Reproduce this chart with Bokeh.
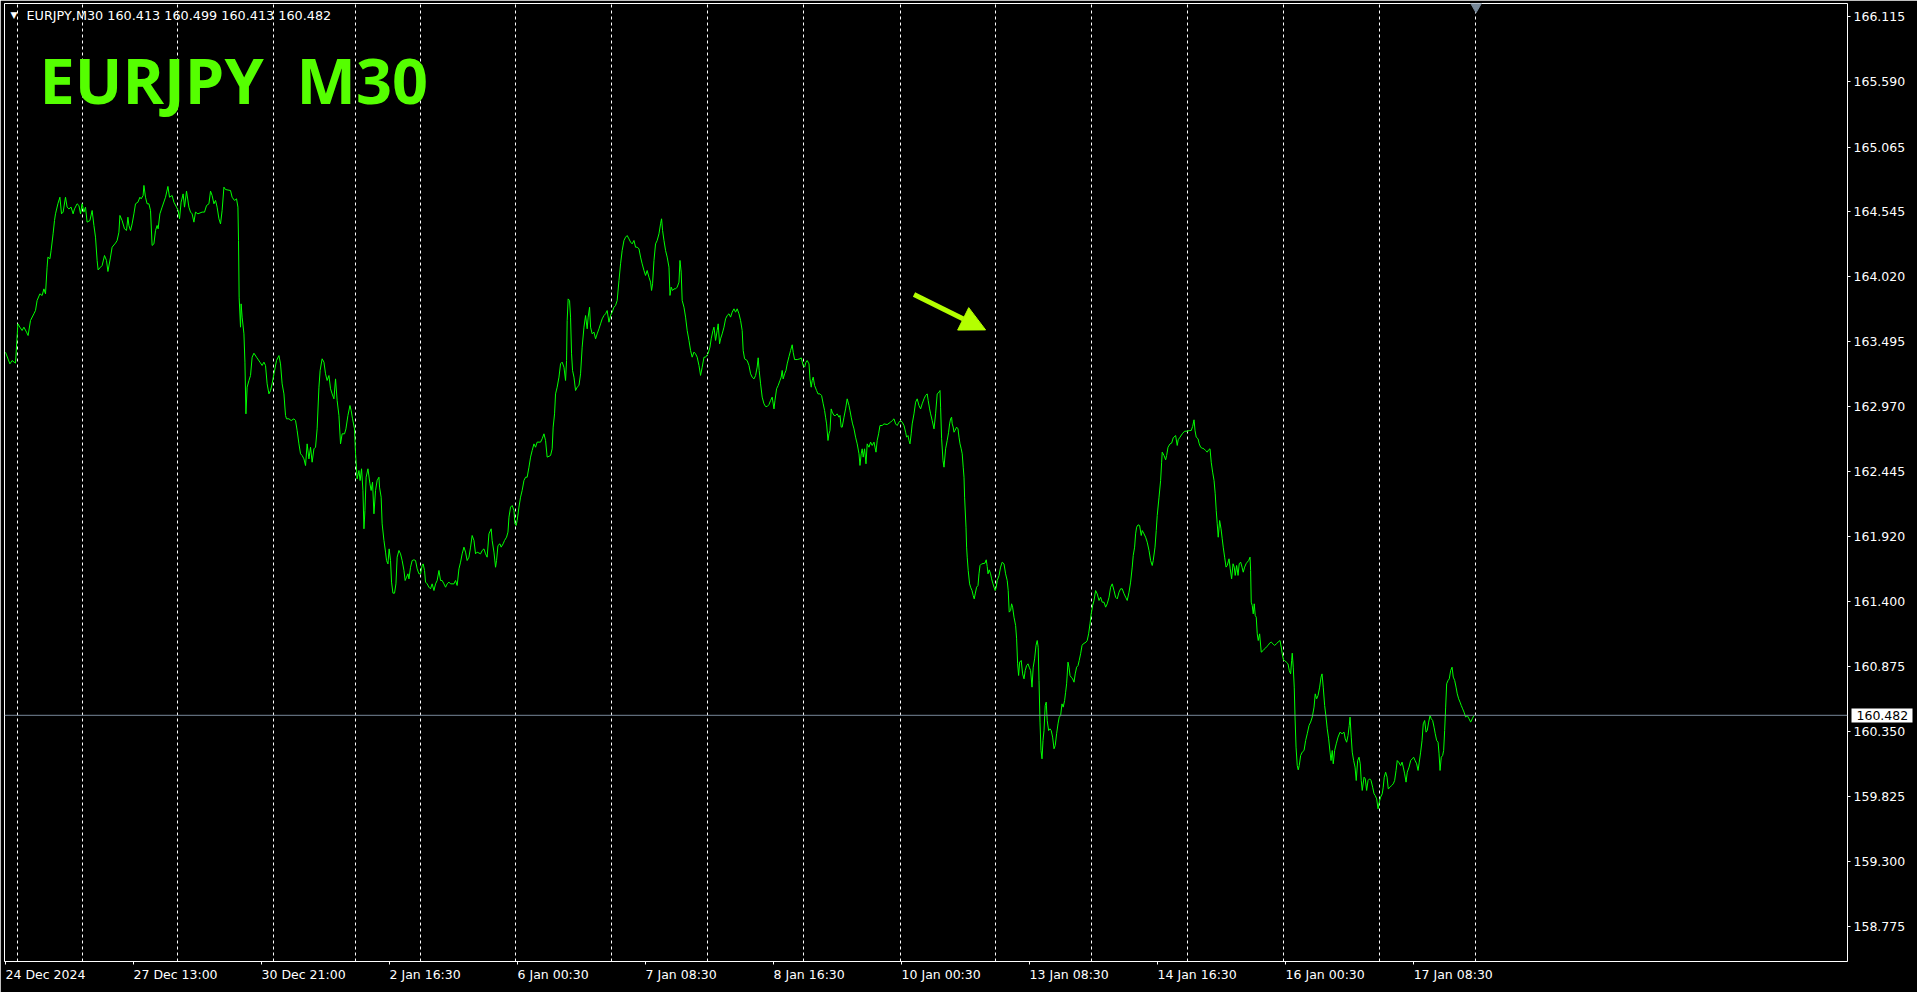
from bokeh.plotting import figure
from bokeh.models import (Range1d, FixedTicker, PrintfTickFormatter, Span, Label, Arrow, NormalHead,
                          LinearAxis)
from bokeh.embed import file_html
from bokeh.resources import INLINE

SYMBOL = "EURJPY"
TIMEFRAME = "M30"
OHLC_LAST = [160.413, 160.499, 160.413, 160.482]
LAST_CLOSE = 160.482

# bar number (M30 bars since the first bar shown) and close price
BAR = [
    0.0, 2.2, 3.3, 5.0, 6.2, 7.2, 8.3, 9.2, 10.5, 11.3, 12.5, 14.2, 15.0, 15.8, 17.2, 18.3, 19.2, 20.0,
    20.8, 21.2, 22.2, 22.8, 23.8, 24.5, 25.0, 26.2, 27.2, 28.0, 28.8, 30.0, 30.8, 31.7, 32.8, 33.8,
    34.5, 35.8, 36.7, 37.5, 38.3, 39.2, 40.0, 40.8, 42.2, 43.3, 44.2, 45.0, 45.8, 46.3, 47.5, 48.3,
    49.5, 50.5, 51.2, 52.5, 53.3, 55.0, 55.8, 56.7, 57.2, 58.3, 59.5, 60.5, 61.2, 61.7, 62.5, 63.3,
    64.2, 65.0, 66.2, 67.2, 67.8, 68.8, 69.2, 70.0, 70.8, 71.7, 72.5, 73.3, 74.2, 75.0, 75.8, 76.3,
    77.2, 78.3, 80.0, 81.2, 82.0, 83.3, 84.2, 85.5, 86.3, 87.0, 87.8, 88.8, 89.5, 90.5, 91.7, 92.5,
    93.3, 94.2, 95.0, 96.2, 98.3, 99.5, 100.5, 101.7, 102.5, 103.3, 104.2, 105.0, 105.8, 106.7, 107.5,
    108.3, 109.2, 110.0, 112.5, 113.3, 114.5, 115.5, 116.2, 116.5, 116.8, 117.5, 117.8, 118.3, 119.2,
    119.7, 120.2, 120.8, 121.7, 122.5, 123.3, 124.2, 125.5, 127.2, 128.3, 129.2, 130.0, 130.8, 131.7,
    132.5, 133.3, 134.2, 135.5, 136.7, 137.5, 138.3, 139.2, 140.0, 140.5, 141.7, 142.8, 144.2, 145.0,
    145.8, 146.7, 147.5, 148.3, 149.2, 150.0, 150.8, 151.7, 152.5, 153.3, 154.2, 155.0, 155.8, 156.7,
    157.3, 158.3, 159.2, 160.0, 160.8, 161.7, 162.5, 163.3, 164.2, 165.0, 165.8, 166.7, 167.5, 168.3,
    169.5, 170.2, 171.2, 172.2, 172.8, 173.5, 174.5, 175.0, 175.8, 176.7, 177.3, 178.0, 178.7, 179.2,
    179.7, 180.3, 181.2, 182.2, 182.8, 183.5, 184.2, 185.0, 185.8, 186.7,
    187.0, 187.8, 188.3, 189.2, 190.0, 190.5, 191.2, 191.8, 192.5, 193.0, 193.7, 194.5, 195.2, 195.8,
    196.7, 197.5, 198.3, 199.2, 199.8, 200.5, 201.2, 201.7, 202.5, 203.3, 204.2, 205.0, 205.8, 206.7,
    207.5, 208.3, 208.8, 209.5, 210.0, 210.8, 211.7, 212.5, 213.3, 214.2, 215.0, 215.8, 216.7, 217.5,
    218.3, 219.2, 220.0, 220.8, 221.7, 222.5, 224.2, 225.0, 225.8, 226.7, 227.5, 228.3, 229.2, 230.0,
    230.8, 231.7, 232.5, 233.3, 234.2, 235.0, 235.8, 237.5, 238.3, 239.2, 240.0, 240.8, 241.7, 242.8,
    243.3, 244.2, 245.0, 245.5, 246.2, 247.2, 247.8, 248.8, 249.5, 250.5, 251.2, 251.7, 252.5, 253.3,
    254.2, 254.7, 255.3, 255.8, 256.7, 257.5, 258.3, 259.2, 260.0, 260.8, 261.7, 262.5, 263.3, 264.2,
    265.0, 265.8, 267.5, 268.3, 269.2, 270.0, 270.8, 272.5, 273.3, 273.8, 274.5, 275.0, 275.8, 276.7,
    277.5, 278.3, 279.2, 280.0, 280.5, 280.8, 281.3, 282.0, 282.5, 283.0, 283.5, 284.2, 285.0, 285.8,
    286.7, 287.5, 288.3, 289.2, 290.0, 290.8, 291.3, 292.0, 292.5, 293.3, 294.2, 295.0, 295.8, 296.7,
    297.5, 298.3, 299.2, 300.0, 300.8, 301.7, 302.5, 303.3, 304.2, 305.0, 305.8, 306.7, 307.5, 308.3,
    309.2, 310.0, 310.8, 311.7, 312.5, 313.3, 314.2, 315.0, 315.8, 316.7, 317.5, 318.3, 319.2, 320.0,
    320.8, 321.7, 322.5, 323.0, 323.5, 324.2, 325.0, 325.8, 326.7, 327.5, 328.0, 328.5, 329.2, 330.0,
    330.8, 331.7, 332.2, 332.8, 333.5, 334.2, 335.0, 335.8, 336.7, 337.2, 337.8, 338.3, 339.2, 340.0,
    340.8, 341.7, 342.5, 343.3, 344.2, 345.0, 345.8, 346.7, 347.5, 348.3, 349.2, 350.0, 351.2, 352.2,
    352.8, 353.7, 354.2, 355.0, 355.8, 356.3, 357.0, 357.5, 358.3, 359.2, 360.0, 360.8, 361.7, 362.5,
    363.3, 364.2, 365.0, 365.8, 366.7, 367.5,
    368.3, 368.8, 369.5, 370.8, 371.7, 372.5, 373.3, 374.2, 375.0, 375.8, 376.3, 376.8, 377.5, 378.3,
    379.2, 380.0, 380.8, 381.7, 382.5, 383.3, 384.2, 384.7, 385.5, 386.3, 387.2, 387.8, 388.3, 388.8,
    389.5, 390.2, 390.8, 391.7, 392.5, 393.3, 393.8, 394.5, 395.8, 397.2, 397.8, 398.8, 399.5, 400.2,
    400.8, 401.7, 402.2, 402.8, 403.3, 403.8, 404.5, 405.5, 406.2, 407.2, 408.0, 408.8, 409.5, 410.0,
    410.5, 411.2, 411.7, 412.2, 412.8, 413.3, 414.2, 415.0, 415.8, 416.7, 417.2, 417.8, 418.3, 419.2,
    420.0, 420.8, 421.7, 422.2, 422.8, 423.5, 424.2, 425.0, 425.8, 426.7, 427.2, 427.8, 428.3, 428.8,
    429.5, 430.2, 430.8, 431.7, 432.5, 433.3, 434.2, 434.7, 435.2, 435.8, 436.5, 437.2, 438.3, 439.2,
    440.8, 442.5, 443.3, 444.2, 445.0, 445.8, 446.7, 447.5, 448.3, 449.2, 450.0, 450.5, 451.2, 451.7,
    452.2, 452.8, 453.3, 454.2, 455.0, 455.8, 456.7, 457.5, 458.3, 459.2, 460.0, 460.8, 461.3, 462.0,
    462.5, 463.3, 464.2, 465.0, 465.8, 466.7, 467.2, 467.5, 468.0, 468.7, 469.2, 470.0, 470.8, 471.5,
    472.0, 472.5, 473.0, 473.3, 473.8, 474.2, 474.7, 475.5, 476.2, 476.7, 477.2, 477.8, 478.3, 478.8,
    479.2, 479.5, 480.2, 480.5, 480.8, 481.3, 482.0, 482.5, 483.2, 483.8, 484.3, 484.8, 485.5, 486.2,
    486.7, 487.2, 488.0, 489.7, 490.3, 490.8, 491.2, 491.8, 492.5, 493.0, 493.7, 494.2, 494.8, 495.3,
    495.8, 496.7, 497.5, 498.3, 499.2, 500.0, 500.8, 501.3, 501.8, 502.5, 503.0, 503.5, 504.2, 505.0,
    505.5, 506.0, 506.5, 507.0, 507.8, 508.5, 509.2, 509.8, 510.5, 511.2, 511.8, 512.5, 513.2, 513.8,
    514.5, 515.2, 515.8, 516.3, 516.7, 517.2, 517.7, 518.2, 518.7, 519.2, 519.8, 520.3, 520.8, 521.5,
    522.2, 522.8, 523.5, 524.2, 524.8, 525.5, 526.2, 526.8, 527.5, 528.2, 528.8, 529.5, 530.0, 530.5,
    531.2, 531.7, 532.2, 532.8, 533.5, 534.2, 534.8, 535.5, 536.2, 536.8, 537.5, 538.2, 538.8, 540.2,
    540.8, 541.5, 542.2, 542.8, 543.5, 544.2, 545.0, 545.8, 546.7, 547.5, 548.3, 549.2, 550.0, 550.8,
    551.7, 552.5, 553.3, 554.2, 555.0, 555.8, 556.7, 557.5,
    558.3, 559.2, 560.0, 560.8, 561.7, 562.5, 563.3, 563.8, 564.5, 565.0, 565.5, 566.2, 567.0, 567.8,
    568.3, 569.2, 570.0, 570.8, 571.7, 572.5, 573.3, 573.8, 574.7, 575.3, 575.8, 576.7, 577.5, 578.0,
    578.3, 579.2, 580.0, 580.5, 581.2, 582.2, 583.0, 583.8, 585.0, 585.8, 586.3, 587.2, 588.3, 589.5,
    590.8, 592.0, 592.8, 593.5, 594.2, 594.7, 595.3, 596.2, 596.8, 597.5, 598.3, 599.2, 600.0, 600.8,
    601.5, 602.2, 602.8, 603.5, 604.2, 604.8, 605.3, 605.8, 606.3, 607.0, 607.7, 608.3, 608.8, 609.5,
    610.2, 610.8, 611.7, 612.3, 613.0, 613.7, 614.3, 614.8, 615.5, 616.2, 616.8, 617.5, 618.2, 618.8,
    619.5, 620.2, 620.8, 621.5, 622.2, 622.5, 622.8, 623.3, 623.8, 624.3, 624.8, 625.3, 625.8, 626.3,
    627.0, 627.8, 628.8, 629.5, 630.3, 631.2, 632.0, 632.8, 633.7, 634.5, 635.3, 636.2, 637.2, 637.8,
    638.3, 639.0, 639.5, 640.3, 641.2, 641.8, 642.5, 643.0, 643.3, 643.8, 644.3, 644.7, 645.2, 645.8,
    646.3, 646.8, 647.5, 648.3, 649.2, 650.0, 650.8, 651.7, 652.5, 653.3, 654.2, 654.8, 655.5, 656.2,
    657.0, 657.7, 658.2, 658.8, 659.5, 660.2, 660.8, 661.5, 662.2, 662.7, 663.3, 663.8, 664.5, 665.3,
    666.2, 667.2, 668.2, 669.2, 669.8, 670.5, 671.2, 671.8, 672.2, 672.8, 673.3, 674.0, 674.7, 675.3,
    676.0, 676.7, 677.3, 677.8, 678.3, 679.2, 679.8, 680.5, 681.2, 682.0, 682.7, 683.5, 684.2, 684.8,
    685.5, 686.2, 686.8, 687.5, 688.3, 688.8, 689.3, 690.0, 690.7, 691.3, 692.2, 693.0, 693.8, 694.5,
    695.2, 695.8, 696.5, 697.5, 698.2, 698.8, 699.5, 700.2, 700.8, 701.7, 702.5, 703.3, 704.0, 704.7,
    705.5, 706.2, 706.8, 707.5, 708.2, 708.8, 709.5, 710.2, 710.8, 711.5, 712.2, 712.8, 713.5, 714.2,
    714.8, 715.5, 716.2, 716.7, 717.2, 717.8, 718.5, 719.0, 719.5, 720.0, 720.5, 721.2, 721.8, 722.5,
    723.2, 723.8, 724.5, 725.2, 725.8, 726.5, 727.2, 727.8, 728.5, 729.2, 730.0, 730.8, 731.7, 732.5,
    733.3, 734.2,
]
CLOSE = [
    163.410, 163.316, 163.343, 163.322, 163.639, 163.612, 163.585, 163.612, 163.572, 163.545, 163.666,
    163.720, 163.747, 163.827, 163.881, 163.867, 163.921, 163.881, 164.096, 164.177, 164.163, 164.230,
    164.365, 164.472, 164.526, 164.607, 164.660, 164.526, 164.540, 164.660, 164.580, 164.566, 164.580,
    164.526, 164.566, 164.607, 164.593, 164.526, 164.607, 164.540, 164.580, 164.459, 164.472, 164.553,
    164.432, 164.338, 164.150, 164.074, 164.096, 164.109, 164.190, 164.150, 164.061, 164.177, 164.257,
    164.290, 164.311, 164.378, 164.513, 164.472, 164.405, 164.392, 164.499, 164.432, 164.392, 164.445,
    164.526, 164.607, 164.620, 164.660, 164.647, 164.674, 164.755, 164.660, 164.607, 164.607, 164.553,
    164.271, 164.284, 164.392, 164.432, 164.405, 164.526, 164.580, 164.660, 164.747, 164.660, 164.674,
    164.620, 164.580, 164.553, 164.486, 164.620, 164.687, 164.580, 164.709, 164.580, 164.540, 164.526,
    164.459, 164.540, 164.526, 164.540, 164.540, 164.593, 164.607, 164.709, 164.674, 164.607, 164.634,
    164.580, 164.486, 164.445, 164.553, 164.741, 164.722, 164.714, 164.660, 164.634, 164.647, 164.580,
    164.311, 163.854, 163.612, 163.800, 163.693, 163.558, 163.330, 162.913, 163.128, 163.182, 163.222,
    163.370, 163.402, 163.370, 163.330, 163.303, 163.330, 163.303, 163.155, 163.074, 163.101, 163.155,
    163.236, 163.343, 163.383, 163.316, 163.155, 163.074, 162.900, 162.873, 162.873, 162.859, 162.873,
    162.859, 162.779, 162.671, 162.591, 162.577, 162.550, 162.496, 162.671, 162.550, 162.644, 162.523,
    162.631, 162.644, 162.792, 163.128, 163.263, 163.357, 163.330, 163.236, 163.182, 163.222, 163.115,
    163.074, 163.034, 163.195, 163.021, 162.900, 162.671, 162.752, 162.752, 162.792, 162.900, 162.980,
    162.940, 162.873, 162.792, 162.591, 162.389, 162.456, 162.375, 162.470, 162.295, 161.986, 162.134,
    162.402, 162.470, 162.349, 162.295, 162.362, 162.107, 162.295, 162.375, 162.402,
    162.322, 162.241, 162.026, 161.892, 161.798, 161.730, 161.703, 161.824, 161.730, 161.556, 161.467,
    161.467, 161.542, 161.757, 161.811, 161.784, 161.730, 161.650, 161.569, 161.596, 161.623, 161.582,
    161.676, 161.730, 161.736, 161.730, 161.663, 161.623, 161.623, 161.690, 161.703, 161.650, 161.556,
    161.542, 161.515, 161.502, 161.542, 161.488, 161.542, 161.569, 161.650, 161.569, 161.569, 161.542,
    161.515, 161.542, 161.556, 161.542, 161.542, 161.569, 161.529, 161.663, 161.717, 161.784, 161.838,
    161.798, 161.730, 161.757, 161.838, 161.932, 161.892, 161.784, 161.798, 161.784, 161.811, 161.824,
    161.784, 161.757, 161.945, 161.986, 161.892, 161.798, 161.676, 161.730, 161.851, 161.865, 161.838,
    161.865, 161.892, 161.919, 161.959, 162.080, 162.161, 162.174, 162.134, 162.026, 162.013, 162.053,
    162.161, 162.241, 162.295, 162.376, 162.402, 162.402, 162.483, 162.564, 162.617, 162.671, 162.644,
    162.685, 162.685, 162.712, 162.752, 162.698, 162.564, 162.577, 162.631, 162.806, 162.913, 163.074,
    163.128, 163.209, 163.317, 163.330, 163.289, 163.182, 163.343, 163.666, 163.840, 163.827, 163.693,
    163.397, 163.263, 163.209, 163.101, 163.128, 163.142, 163.236, 163.451, 163.612, 163.706, 163.599,
    163.693, 163.773, 163.612, 163.558, 163.572, 163.518, 163.558, 163.599, 163.639, 163.679, 163.706,
    163.720, 163.746, 163.652, 163.706, 163.733, 163.773, 163.787, 163.827, 163.988, 164.123, 164.230,
    164.311, 164.338, 164.351, 164.324, 164.298, 164.284, 164.311, 164.257, 164.257, 164.244, 164.177,
    164.123, 164.069, 164.029, 164.069, 164.015, 163.975, 163.908, 163.962, 164.150, 164.284, 164.311,
    164.365, 164.446, 164.486, 164.392, 164.311, 164.230, 164.177, 164.096, 163.868, 163.935, 163.908,
    163.921, 163.921, 163.935, 163.975, 164.150, 164.056, 163.827, 163.773, 163.693, 163.585, 163.505,
    163.424, 163.370, 163.411, 163.397, 163.370, 163.303, 163.223, 163.289, 163.370, 163.370, 163.397,
    163.451, 163.518, 163.585, 163.612, 163.505, 163.585, 163.639, 163.478, 163.518, 163.558, 163.612,
    163.679, 163.706, 163.720, 163.693, 163.733, 163.760, 163.733, 163.760, 163.720, 163.666,
    163.585, 163.424, 163.357, 163.343, 163.303, 163.236, 163.209, 163.195, 163.222, 163.290, 163.365,
    163.263, 163.155, 163.048, 162.994, 162.972, 162.972, 162.988, 163.021, 163.048, 162.953, 163.021,
    163.115, 163.142, 163.182, 163.209, 163.263, 163.195, 163.236, 163.263, 163.316, 163.375, 163.424,
    163.470, 163.410, 163.351, 163.351, 163.357, 163.365, 163.303, 163.290, 163.330, 163.343, 163.316,
    163.195, 163.128, 163.182, 163.209, 163.142, 163.101, 163.074, 163.074, 163.061, 162.994, 162.940,
    162.886, 162.832, 162.698, 162.752, 162.779, 162.953, 162.927, 162.900, 162.900, 162.913, 162.886,
    162.900, 162.806, 162.806, 162.886, 162.953, 163.034, 162.980, 162.940, 162.886, 162.832, 162.792,
    162.725, 162.671, 162.591, 162.497, 162.591, 162.631, 162.564, 162.631, 162.510, 162.671, 162.644,
    162.685, 162.658, 162.685, 162.644, 162.604, 162.698, 162.752, 162.819, 162.819, 162.832, 162.827,
    162.846, 162.859, 162.873, 162.832, 162.819, 162.846, 162.859, 162.846, 162.819, 162.765, 162.725,
    162.738, 162.698, 162.671, 162.752, 162.832, 162.913, 163.007, 163.034, 162.980, 162.953, 162.994,
    163.034, 163.061, 163.074, 163.021, 162.953, 162.913, 162.859, 162.792, 162.913, 163.074, 163.088,
    163.101, 162.967, 162.712, 162.537, 162.483, 162.631, 162.698, 162.765, 162.832, 162.873, 162.886,
    162.832, 162.806, 162.765, 162.779, 162.806, 162.792, 162.725, 162.671, 162.631, 162.591, 162.483,
    162.402, 162.241, 161.999, 161.838, 161.757, 161.650, 161.542, 161.515, 161.488, 161.448, 161.421,
    161.461, 161.515, 161.529, 161.623, 161.690, 161.703, 161.709, 161.736, 161.682, 161.623, 161.655,
    161.623, 161.582, 161.542, 161.515, 161.488, 161.515, 161.569, 161.609, 161.677, 161.717, 161.703,
    161.623, 161.569, 161.488, 161.314, 161.327, 161.381, 161.354, 161.273, 161.206, 161.099, 160.897,
    160.803, 160.911, 160.924, 160.816, 160.776, 160.843, 160.883, 160.897, 160.870, 160.843, 160.709,
    160.870, 160.937, 161.045, 161.085, 161.031, 160.763, 160.427, 160.198, 160.131, 160.279, 160.359,
    160.561, 160.588, 160.440, 160.359, 160.373, 160.359, 160.306, 160.212, 160.238, 160.333, 160.413,
    160.467, 160.480, 160.574, 160.548, 160.601, 160.668, 160.736, 160.911, 160.870, 160.803, 160.789,
    160.776, 160.749, 160.816, 160.870, 160.883, 160.924, 160.978, 161.045, 161.058, 161.072, 161.085,
    161.139, 161.220, 161.300, 161.367, 161.408, 161.488, 161.461, 161.408, 161.434, 161.394, 161.394,
    161.354, 161.381, 161.434, 161.515, 161.542, 161.488, 161.434, 161.421, 161.475, 161.502,
    161.502, 161.462, 161.435, 161.408, 161.475, 161.556, 161.677, 161.771, 161.838, 161.945, 161.999,
    162.018, 162.013, 161.932, 161.972, 161.945, 161.918, 161.878, 161.811, 161.730, 161.690, 161.730,
    161.838, 161.972, 162.093, 162.241, 162.376, 162.523, 162.604, 162.577, 162.542, 162.577, 162.644,
    162.671, 162.677, 162.720, 162.738, 162.658, 162.704, 162.725, 162.752, 162.773, 162.773, 162.779,
    162.779, 162.811, 162.865, 162.779, 162.725, 162.712, 162.671, 162.644, 162.636, 162.631, 162.617,
    162.604, 162.623, 162.631, 162.523, 162.443, 162.376, 162.268, 162.134, 162.026, 161.918, 162.053,
    161.986, 161.905, 161.838, 161.757, 161.677, 161.690, 161.744, 161.663, 161.583, 161.704, 161.677,
    161.610, 161.690, 161.610, 161.704, 161.717, 161.677, 161.636, 161.677, 161.704, 161.717, 161.730,
    161.757, 161.650, 161.394, 161.367, 161.300, 161.381, 161.287, 161.273, 161.139, 161.085, 161.139,
    160.991, 161.005, 161.018, 161.032, 161.045, 161.064, 161.072, 161.058, 161.045, 161.058, 161.072,
    161.085, 161.032, 160.978, 160.924, 160.924, 160.911, 160.897, 160.843, 160.816, 160.924, 160.983,
    160.870, 160.709, 160.467, 160.225, 160.077, 160.042, 160.077, 160.158, 160.185, 160.198, 160.279,
    160.333, 160.400, 160.427, 160.467, 160.548, 160.655, 160.615, 160.642, 160.709, 160.790, 160.816,
    160.709, 160.561, 160.467, 160.373, 160.292, 160.185, 160.117, 160.198, 160.091, 160.198, 160.252,
    160.306, 160.346, 160.333, 160.346, 160.292, 160.265, 160.319, 160.400, 160.467, 160.306, 160.185,
    160.117, 160.064, 159.956, 160.117, 160.144, 160.091, 159.956, 159.876, 159.983, 159.970, 159.876,
    159.956, 159.970, 159.956, 159.902, 159.849, 159.835, 159.808, 159.728, 159.782, 159.822, 159.849,
    159.902, 159.983, 160.023, 159.983, 159.889, 159.902, 159.916, 159.929, 159.956, 160.037, 160.117,
    160.104, 160.077, 160.104, 160.064, 160.010, 159.943, 160.023, 160.064, 160.117, 160.131, 160.144,
    160.117, 160.091, 160.037, 160.104, 160.185, 160.279, 160.413, 160.440, 160.346, 160.360, 160.427,
    160.480, 160.454, 160.440, 160.386, 160.333, 160.279, 160.265, 160.171, 160.037, 160.144, 160.158,
    160.198, 160.360, 160.548, 160.736, 160.763, 160.776, 160.843, 160.870, 160.790, 160.763, 160.709,
    160.655, 160.615, 160.588, 160.561, 160.534, 160.507, 160.467, 160.480, 160.454, 160.427, 160.454,
    160.482,
]

TIME_TICKS = [0, 64, 128, 192, 256, 320, 384, 448, 512, 576, 640, 704]
TIME_LABELS = ["24 Dec 2024", "27 Dec 13:00", "30 Dec 21:00", "2 Jan 16:30", "6 Jan 00:30",
               "7 Jan 08:30", "8 Jan 16:30", "10 Jan 00:30", "13 Jan 08:30", "14 Jan 16:30",
               "16 Jan 00:30", "17 Jan 08:30"]
PRICE_TICKS = [166.115, 165.590, 165.065, 164.545, 164.020, 163.495, 162.970, 162.445,
               161.920, 161.400, 160.875, 160.350, 159.825, 159.300, 158.775]
SEPARATORS = [6, 38.5, 86, 134, 175, 207.5, 255, 303, 351, 399, 447.5, 495, 543, 591, 639, 687, 735]
ARROW_FROM = (454.2, 163.875)
ARROW_TO = (490.0, 163.59)

X_START, X_END = -0.5, 920.9
Y_START, Y_END = 158.4965, 166.2223

FONT = "DejaVu Sans"
FS = "12.5px"
LINE_GREEN = "#00ff00"
TITLE_GREEN = "#55ff00"
ARROW_COLOR = "#b4ff00"
SLATE = "#778899"

FRAME_W, FRAME_H = 1843, 958

p = figure(frame_width=FRAME_W, frame_height=FRAME_H,
           x_range=Range1d(X_START, X_END), y_range=Range1d(Y_START, Y_END),
           y_axis_location="right", output_backend="svg", toolbar_location=None,
           background_fill_color="black", border_fill_color="black",
           min_border_left=4, min_border_top=3, min_border_right=70, min_border_bottom=27)

p.outline_line_color = "white"
p.outline_line_width = 1

# grid: vertical dashed separators only
p.xgrid.ticker = FixedTicker(ticks=SEPARATORS)
p.xgrid.grid_line_color = "white"
p.xgrid.grid_line_dash = "3 3"
p.xgrid.grid_line_width = 1
p.ygrid.grid_line_color = None

# x axis (labels start at their tick)
xa = p.xaxis[0]
xa.ticker = FixedTicker(ticks=TIME_TICKS)
xa.major_label_overrides = {t: l for t, l in zip(TIME_TICKS, TIME_LABELS)}
xa.major_label_orientation = -0.0001
xa.major_label_text_color = "white"
xa.major_label_text_font = FONT
xa.major_label_text_font_size = FS
xa.major_label_standoff = 10
xa.major_tick_in = 0
xa.major_tick_out = 3
xa.major_tick_line_color = "white"
xa.minor_tick_line_color = None
xa.axis_line_color = None

# y axis (right)
ya = p.yaxis[0]
ya.ticker = FixedTicker(ticks=PRICE_TICKS)
ya.formatter = PrintfTickFormatter(format="%.3f")
ya.major_label_text_color = "white"
ya.major_label_text_font = FONT
ya.major_label_text_font_size = FS
ya.major_label_standoff = 3
ya.major_tick_in = 0
ya.major_tick_out = 3
ya.major_tick_line_color = "white"
ya.minor_tick_line_color = None
ya.axis_line_color = None

# last price marker on the price scale: white box with dark figure
box_axis = LinearAxis(ticker=FixedTicker(ticks=[LAST_CLOSE]),
                      formatter=PrintfTickFormatter(format="%.3f"),
                      major_tick_in=57, major_tick_out=4, major_tick_line_color="white",
                      major_tick_line_width=14, major_label_standoff=-56,
                      major_label_text_color="black", major_label_text_font=FONT,
                      major_label_text_font_size=FS, minor_tick_line_color=None,
                      axis_line_color=None)
p.add_layout(box_axis, "right")

# current price line
p.add_layout(Span(location=LAST_CLOSE, dimension="width", line_color=SLATE, line_width=1))

# price series
p.line(BAR, CLOSE, line_color=LINE_GREEN, line_width=1)

# chart shift marker
p.scatter([BAR[-1] + 1], [Y_END], marker="inverted_triangle", size=16,
          fill_color=SLATE, line_color=SLATE)

# arrow
p.add_layout(Arrow(x_start=ARROW_FROM[0], y_start=ARROW_FROM[1], x_end=ARROW_TO[0], y_end=ARROW_TO[1],
                   line_color=ARROW_COLOR, line_width=5,
                   end=NormalHead(size=25, fill_color=ARROW_COLOR, line_color=ARROW_COLOR)))

# header texts
p.add_layout(Label(x=6, y=FRAME_H - 11, x_units="screen", y_units="screen", text="\u25bc",
                   text_color="white", text_font=FONT, text_font_size="9px", text_baseline="middle"))
header = f"{SYMBOL},{TIMEFRAME}  " + " ".join(f"{v:.3f}" for v in OHLC_LAST)
p.add_layout(Label(x=22, y=FRAME_H - 12, x_units="screen", y_units="screen", text=header,
                   text_color="white", text_font=FONT, text_font_size="12.8px", text_baseline="middle"))
p.add_layout(Label(x=35, y=FRAME_H - 76, x_units="screen", y_units="screen",
                   text=SYMBOL, text_color=TITLE_GREEN, text_font="Open Sans",
                   text_font_style="bold", text_font_size="63px", text_baseline="alphabetic"))
p.add_layout(Label(x=292, y=FRAME_H - 76, x_units="screen", y_units="screen",
                   text=TIMEFRAME, text_color=TITLE_GREEN, text_font="Open Sans",
                   text_font_style="bold", text_font_size="63px", text_baseline="alphabetic"))

open("out.html", "w").write(file_html(p, INLINE))
